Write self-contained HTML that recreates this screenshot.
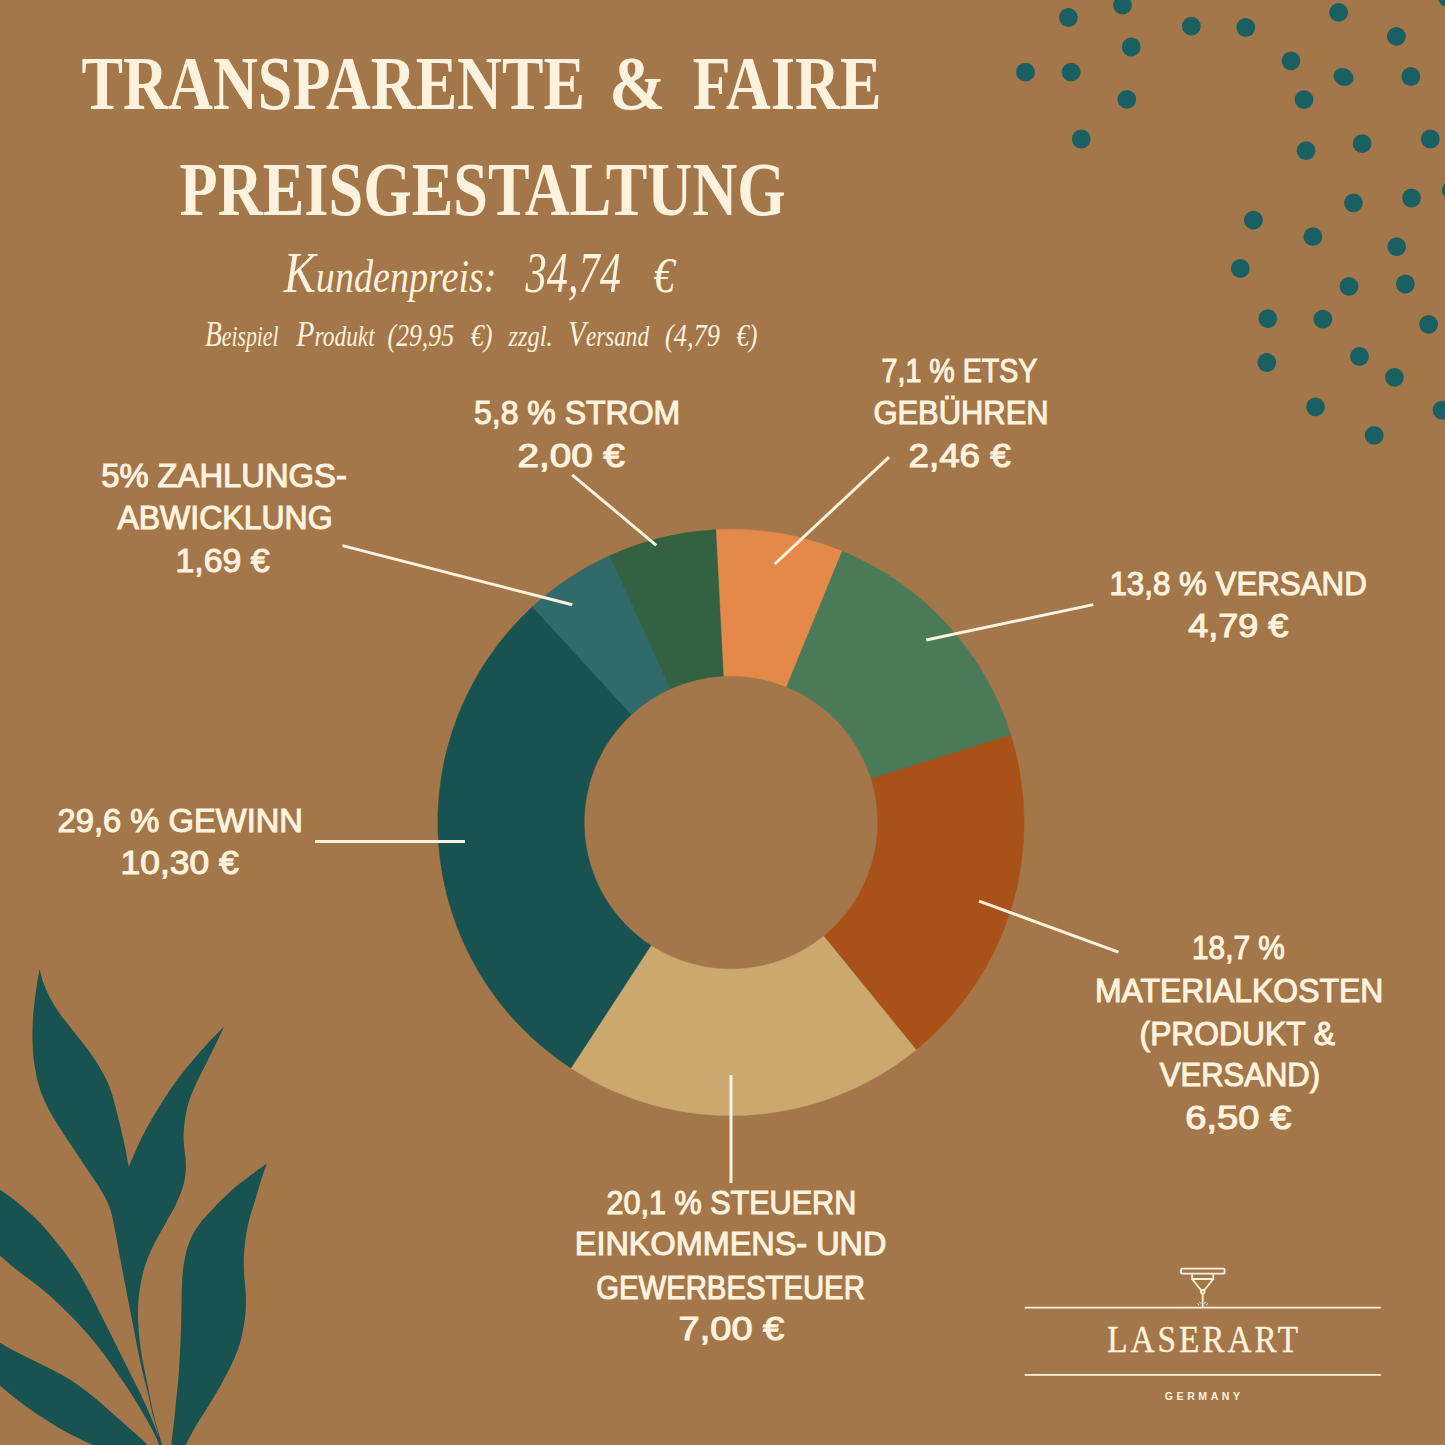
<!DOCTYPE html>
<html lang="de">
<head>
<meta charset="utf-8">
<title>Transparente &amp; faire Preisgestaltung</title>
<style>
html,body{margin:0;padding:0;background:#a4774a;}
body{width:1445px;height:1445px;overflow:hidden;}
svg{display:block;}
text{white-space:pre;}
.lab{font-family:"Liberation Sans",sans-serif;font-size:32.8px;fill:#fdf2de;stroke:#fdf2de;stroke-width:1.1px;}
.ttl{font-family:"Liberation Serif",serif;font-weight:bold;font-size:76px;fill:#fdf2de;}
.scr{font-family:"Liberation Serif",serif;font-style:italic;fill:#fdf2de;font-size:28px;}
.s1{font-size:46px;}
.c1{font-size:58px;}
.d1{font-size:56px;}
.e1{font-size:50px;}
.s2{font-size:28.5px;}
.c2{font-size:36px;}
.d2{font-size:32px;}
.lg1{font-family:"Liberation Serif",serif;font-size:37px;fill:#fdf2de;stroke:#fdf2de;stroke-width:.35px;}
.lg2{font-family:"Liberation Sans",sans-serif;font-size:10.5px;font-weight:bold;fill:#fdf2de;}
.ln line{stroke:#fdf2de;stroke-width:3;}
</style>
</head>
<body>
<svg width="1445" height="1445" viewBox="0 0 1445 1445">
<rect width="1445" height="1445" fill="#a4774a"/>
<g fill="#1a6063"><circle cx="1068.4" cy="17.5" r="9.4"/><circle cx="1122.5" cy="5.0" r="9.4"/><circle cx="1191.3" cy="26.2" r="9.4"/><circle cx="1245.7" cy="27.5" r="9.4"/><circle cx="1338.6" cy="12.4" r="9.4"/><circle cx="1396.4" cy="36.3" r="9.4"/><circle cx="1131.2" cy="47.0" r="9.4"/><circle cx="1291.0" cy="60.8" r="9.4"/><circle cx="1025.5" cy="72.2" r="9.4"/><circle cx="1071.1" cy="72.2" r="9.4"/><circle cx="1410.8" cy="76.5" r="9.4"/><circle cx="1126.8" cy="99.4" r="9.4"/><circle cx="1304.0" cy="99.7" r="9.4"/><circle cx="1081.2" cy="139.0" r="9.4"/><circle cx="1306.0" cy="150.7" r="9.4"/><circle cx="1362.1" cy="143.7" r="9.4"/><circle cx="1430.3" cy="139.0" r="9.4"/><circle cx="1353.4" cy="202.8" r="9.4"/><circle cx="1411.5" cy="198.0" r="9.4"/><circle cx="1451.4" cy="190.3" r="9.4"/><circle cx="1253.4" cy="220.2" r="9.4"/><circle cx="1312.8" cy="236.7" r="9.4"/><circle cx="1396.7" cy="246.7" r="9.4"/><circle cx="1240.3" cy="268.5" r="9.4"/><circle cx="1349.0" cy="286.3" r="9.4"/><circle cx="1405.4" cy="284.0" r="9.4"/><circle cx="1267.8" cy="318.6" r="9.4"/><circle cx="1322.9" cy="319.2" r="9.4"/><circle cx="1428.6" cy="324.3" r="9.4"/><circle cx="1266.8" cy="362.5" r="9.4"/><circle cx="1359.5" cy="356.5" r="9.4"/><circle cx="1394.4" cy="377.3" r="9.4"/><circle cx="1315.5" cy="406.8" r="9.4"/><circle cx="1374.2" cy="435.4" r="9.4"/><circle cx="1442.0" cy="410.2" r="9.4"/><circle cx="1447.5" cy="-2.5" r="9.4"/><ellipse cx="1343.5" cy="77" rx="10.3" ry="8.7" transform="rotate(28 1343.5 77)"/></g>
<g fill="#185352"><path d="M39.7 969.1C40.3 971.3 41.4 977.2 43.1 982.1C44.9 987.0 47.4 992.9 50.2 998.2C53.1 1003.6 56.2 1008.5 60.2 1014.2C64.2 1019.9 69.6 1026.3 74.3 1032.3C79.0 1038.3 84.0 1044.3 88.3 1050.3C92.6 1056.3 96.8 1062.4 100.3 1068.4C103.8 1074.4 106.9 1080.2 109.4 1086.5C111.9 1092.8 113.6 1099.8 115.4 1106.5C117.2 1113.2 118.7 1119.6 120.4 1126.6C122.1 1133.6 124.0 1142.0 125.4 1148.7C126.8 1155.4 128.2 1163.8 128.8 1166.8L128.8 1166.8C130.1 1163.8 133.6 1155.1 136.5 1148.7C139.4 1142.3 142.5 1136.0 146.5 1128.6C150.5 1121.2 155.6 1112.5 160.6 1104.5C165.6 1096.5 171.2 1087.8 176.6 1080.5C181.9 1073.2 187.3 1066.8 192.7 1060.4C198.0 1054.0 203.4 1048.0 208.7 1042.3C214.0 1036.6 221.8 1029.0 224.4 1026.3L224.4 1026.3C223.1 1029.0 219.6 1036.3 216.7 1042.3C213.8 1048.3 210.0 1055.7 206.7 1062.4C203.4 1069.1 199.7 1075.8 196.7 1082.5C193.7 1089.2 190.6 1095.8 188.6 1102.5C186.6 1109.2 185.4 1116.2 184.6 1122.6C183.8 1129.0 183.4 1134.7 183.6 1140.7C183.8 1146.7 185.3 1153.4 185.6 1158.7C185.9 1164.0 186.1 1167.9 185.6 1172.8C185.1 1177.7 184.3 1182.6 182.6 1188.0C180.9 1193.4 178.4 1199.1 175.6 1205.0C172.8 1210.9 169.1 1216.8 165.6 1223.2C162.1 1229.6 157.7 1236.9 154.5 1243.3C151.3 1249.7 148.7 1255.4 146.5 1261.4C144.3 1267.4 142.8 1273.1 141.5 1279.4C140.2 1285.8 139.1 1292.8 138.5 1299.5C137.9 1306.2 137.9 1312.9 138.1 1319.6C138.3 1326.3 138.8 1332.9 139.5 1339.6C140.2 1346.3 141.3 1353.0 142.5 1359.7C143.7 1366.4 145.2 1373.1 146.5 1379.8C147.8 1386.5 149.2 1393.4 150.5 1399.8C151.8 1406.2 153.0 1411.9 154.5 1417.9C156.0 1423.9 158.2 1431.3 159.5 1436.0C160.8 1440.7 161.8 1444.3 162.2 1446.0L160.6 1446.0C160.1 1443.7 158.8 1437.3 157.5 1432.0C156.2 1426.7 154.0 1419.9 152.5 1413.9C151.0 1407.9 150.0 1402.2 148.5 1395.8C147.0 1389.4 145.2 1382.8 143.5 1375.8C141.8 1368.8 140.2 1361.7 138.5 1353.7C136.8 1345.7 135.2 1336.3 133.5 1327.6C131.8 1318.9 130.1 1310.2 128.4 1301.5C126.7 1292.8 125.1 1284.1 123.4 1275.4C121.7 1266.7 119.9 1257.3 118.4 1249.3C116.9 1241.3 115.9 1234.2 114.4 1227.2C112.9 1220.2 111.8 1213.4 109.4 1207.0C107.1 1200.6 103.8 1195.0 100.3 1189.0C96.8 1183.0 92.6 1177.5 88.3 1171.0C84.0 1164.5 79.0 1157.1 74.3 1150.0C69.6 1142.9 64.5 1135.5 60.2 1128.6C55.9 1121.7 51.7 1115.5 48.2 1108.5C44.7 1101.5 41.5 1094.2 39.1 1086.5C36.8 1078.8 35.2 1070.1 34.1 1062.4C33.0 1054.7 32.7 1048.0 32.5 1040.3C32.3 1032.6 32.5 1024.6 33.1 1016.2C33.7 1007.8 35.0 998.0 36.1 990.1C37.2 982.2 39.1 972.6 39.7 969.1Z"/><path d="M266.9 1163.5C265.9 1166.4 262.9 1174.8 260.9 1181.0C258.9 1187.2 256.9 1194.3 254.9 1201.0C252.9 1207.7 250.5 1214.4 248.9 1221.1C247.3 1227.8 246.0 1234.6 245.2 1241.3C244.3 1248.0 243.9 1255.4 243.8 1261.4C243.7 1267.4 244.1 1272.1 244.4 1277.4C244.7 1282.8 245.6 1288.2 245.8 1293.5C246.0 1298.8 246.1 1304.2 245.8 1309.5C245.5 1314.8 244.8 1319.9 243.8 1325.6C242.8 1331.3 241.6 1337.7 239.8 1343.7C238.0 1349.7 235.3 1356.0 232.8 1361.7C230.3 1367.4 227.8 1372.1 224.8 1377.8C221.8 1383.5 218.0 1390.1 214.7 1395.8C211.3 1401.5 208.0 1406.6 204.7 1411.9C201.4 1417.2 197.9 1422.2 194.7 1427.9C191.4 1433.6 186.8 1443.0 185.2 1446.0L171.4 1446.0C171.5 1444.3 171.7 1440.3 172.2 1436.0C172.7 1431.7 173.5 1425.9 174.2 1419.9C174.9 1413.9 175.5 1406.5 176.2 1399.8C176.9 1393.1 177.6 1386.5 178.2 1379.8C178.8 1373.1 179.2 1366.4 179.6 1359.7C180.0 1353.0 180.3 1346.3 180.6 1339.6C180.9 1332.9 181.0 1326.3 181.2 1319.6C181.4 1312.9 181.4 1306.2 181.6 1299.5C181.8 1292.8 181.7 1286.1 182.2 1279.4C182.7 1272.7 183.3 1265.8 184.6 1259.4C185.8 1253.1 187.3 1247.0 189.7 1241.3C192.0 1235.6 194.9 1230.5 198.7 1225.1C202.5 1219.7 207.3 1214.7 212.7 1209.0C218.0 1203.3 224.4 1196.7 230.8 1191.0C237.2 1185.3 244.9 1179.6 250.9 1175.0C256.9 1170.4 264.2 1165.4 266.9 1163.5Z"/><path d="M-2.0 1188.3C0.3 1189.9 7.3 1194.4 12.0 1198.0C16.7 1201.6 21.4 1205.6 26.1 1209.8C30.8 1214.0 35.4 1218.1 40.1 1223.0C44.8 1227.9 49.5 1233.6 54.2 1239.3C58.9 1245.0 63.9 1251.4 68.2 1257.4C72.5 1263.4 76.6 1269.4 80.3 1275.4C84.0 1281.4 87.0 1287.2 90.3 1293.5C93.6 1299.8 96.9 1306.8 100.3 1313.5C103.7 1320.2 107.1 1326.9 110.4 1333.6C113.8 1340.3 117.1 1347.0 120.4 1353.7C123.7 1360.4 127.1 1367.1 130.4 1373.8C133.8 1380.5 137.2 1386.8 140.5 1393.8C143.8 1400.8 147.5 1408.9 150.5 1415.9C153.5 1422.9 156.6 1431.0 158.5 1436.0C160.4 1441.0 161.4 1444.3 162.0 1446.0L159.5 1446.0C158.7 1444.0 157.0 1439.0 154.5 1434.0C152.0 1429.0 148.2 1422.3 144.5 1415.9C140.8 1409.5 136.5 1402.2 132.5 1395.8C128.5 1389.4 124.8 1384.1 120.4 1377.8C116.1 1371.5 111.1 1364.1 106.4 1357.7C101.7 1351.3 97.3 1345.6 92.3 1339.6C87.3 1333.6 82.0 1327.6 76.3 1321.6C70.6 1315.6 64.2 1309.2 58.2 1303.5C52.2 1297.8 45.8 1292.2 40.1 1287.5C34.4 1282.8 29.1 1279.2 24.1 1275.4C19.1 1271.6 14.4 1268.0 10.0 1264.4C5.6 1260.8 0.0 1255.4 -2.0 1253.6Z"/><path d="M-2.0 1341.5C0.7 1343.0 8.3 1347.7 14.0 1350.7C19.7 1353.7 25.7 1356.5 32.1 1359.7C38.5 1362.9 45.9 1366.4 52.2 1369.7C58.6 1373.0 64.2 1376.0 70.2 1379.8C76.2 1383.6 82.3 1388.1 88.3 1392.8C94.3 1397.5 100.4 1402.7 106.4 1407.9C112.4 1413.1 118.7 1418.9 124.4 1423.9C130.1 1428.9 136.5 1434.3 140.5 1438.0C144.5 1441.7 147.2 1444.7 148.5 1446.0L95.0 1446.0C93.5 1445.3 91.1 1444.3 86.3 1442.0C81.5 1439.7 72.9 1435.7 66.2 1432.0C59.5 1428.3 52.6 1423.9 46.2 1419.9C39.9 1415.9 33.8 1411.9 28.1 1407.9C22.4 1403.9 17.0 1399.8 12.0 1395.8C7.0 1391.8 0.3 1386.0 -2.0 1384.0Z"/></g>
<path d="M715.7 529.8A293.1 293.1 0 0 1 842.2 551.3L786.7 686.7A146.8 146.8 0 0 0 723.3 675.9Z" fill="#e5894b" stroke="#e5894b" stroke-width=".6" stroke-linejoin="round"/>
<path d="M842.2 551.3A293.1 293.1 0 0 1 1010.8 735.3L871.2 778.8A146.8 146.8 0 0 0 786.7 686.7Z" fill="#4b7a58" stroke="#4b7a58" stroke-width=".6" stroke-linejoin="round"/>
<path d="M1010.8 735.3A293.1 293.1 0 0 1 916.0 1049.8L823.7 936.3A146.8 146.8 0 0 0 871.2 778.8Z" fill="#a85219" stroke="#a85219" stroke-width=".6" stroke-linejoin="round"/>
<path d="M916.0 1049.8A293.1 293.1 0 0 1 570.9 1068.0L650.8 945.5A146.8 146.8 0 0 0 823.7 936.3Z" fill="#cba86d" stroke="#cba86d" stroke-width=".6" stroke-linejoin="round"/>
<path d="M570.9 1068.0A293.1 293.1 0 0 1 532.6 606.7L631.6 714.4A146.8 146.8 0 0 0 650.8 945.5Z" fill="#185352" stroke="#185352" stroke-width=".6" stroke-linejoin="round"/>
<path d="M532.6 606.7A293.1 293.1 0 0 1 609.9 555.6L670.4 688.8A146.8 146.8 0 0 0 631.6 714.4Z" fill="#306a6a" stroke="#306a6a" stroke-width=".6" stroke-linejoin="round"/>
<path d="M609.9 555.6A293.1 293.1 0 0 1 715.7 529.8L723.3 675.9A146.8 146.8 0 0 0 670.4 688.8Z" fill="#326242" stroke="#326242" stroke-width=".6" stroke-linejoin="round"/>
<g class="ln"><line x1="342.5" y1="545.6" x2="572.3" y2="604.8"/><line x1="572.1" y1="474.8" x2="656.3" y2="545.3"/><line x1="889" y1="457.1" x2="774.8" y2="564"/><line x1="1093.3" y1="604.6" x2="926.2" y2="640"/><line x1="979.1" y1="901.1" x2="1118.4" y2="952.2"/><line x1="731" y1="1075" x2="731" y2="1183"/><line x1="315" y1="841.5" x2="465" y2="841.5"/></g>
<text class="ttl"><tspan x="81.6" y="109.4" textLength="503.4" lengthAdjust="spacingAndGlyphs">TRANSPARENTE</tspan> <tspan x="609.2" y="109.4" textLength="56.2" lengthAdjust="spacingAndGlyphs">&amp;</tspan> <tspan x="692.4" y="109.4" textLength="189.2" lengthAdjust="spacingAndGlyphs">FAIRE</tspan></text>
<text class="ttl"><tspan x="179.6" y="214.5" textLength="606.2" lengthAdjust="spacingAndGlyphs">PREISGESTALTUNG</tspan></text>
<text class="scr"><tspan class="s1" x="283.8" y="291.5" textLength="212.7" lengthAdjust="spacingAndGlyphs"><tspan class="c1">K</tspan>undenpreis:</tspan> <tspan class="d1" x="525.5" y="291.5" textLength="95.5" lengthAdjust="spacingAndGlyphs">34,74</tspan> <tspan class="e1" x="653.4" y="291.5" textLength="21.1" lengthAdjust="spacingAndGlyphs">€</tspan></text>
<text class="scr"><tspan class="s2" x="204.9" y="346.3" textLength="73.7" lengthAdjust="spacingAndGlyphs"><tspan class="c2">B</tspan>eispiel</tspan> <tspan class="s2" x="296.3" y="346.3" textLength="78.5" lengthAdjust="spacingAndGlyphs"><tspan class="c2">P</tspan>rodukt</tspan> <tspan class="d2" x="387.6" y="346.3" textLength="66.4" lengthAdjust="spacingAndGlyphs">(29,95</tspan> <tspan class="d2" x="470.7" y="346.3" textLength="21.8" lengthAdjust="spacingAndGlyphs">€)</tspan> <tspan class="s2" x="508.5" y="346.3" textLength="44.1" lengthAdjust="spacingAndGlyphs">zzgl.</tspan> <tspan class="s2" x="568.0" y="346.3" textLength="81.0" lengthAdjust="spacingAndGlyphs"><tspan class="c2">V</tspan>ersand</tspan> <tspan class="d2" x="665.0" y="346.3" textLength="54.9" lengthAdjust="spacingAndGlyphs">(4,79</tspan> <tspan class="d2" x="736.5" y="346.3" textLength="20.9" lengthAdjust="spacingAndGlyphs">€)</tspan></text>
<text class="lab"><tspan x="474.0" y="423.7" textLength="206.2" lengthAdjust="spacingAndGlyphs">5,8 % STROM</tspan> <tspan x="517.6" y="466.7" textLength="107.2" lengthAdjust="spacingAndGlyphs">2,00 €</tspan></text>
<text class="lab"><tspan x="101.2" y="486.9" textLength="245.6" lengthAdjust="spacingAndGlyphs">5% ZAHLUNGS-</tspan> <tspan x="117.4" y="528.6" textLength="215.2" lengthAdjust="spacingAndGlyphs">ABWICKLUNG</tspan> <tspan x="175.4" y="571.7" textLength="94.2" lengthAdjust="spacingAndGlyphs">1,69 €</tspan></text>
<text class="lab"><tspan x="881.6" y="381.7" textLength="155.2" lengthAdjust="spacingAndGlyphs">7,1 % ETSY</tspan> <tspan x="873.4" y="424.4" textLength="175.2" lengthAdjust="spacingAndGlyphs">GEBÜHREN</tspan> <tspan x="908.6" y="467.0" textLength="102.0" lengthAdjust="spacingAndGlyphs">2,46 €</tspan></text>
<text class="lab"><tspan x="1109.4" y="595.0" textLength="257.4" lengthAdjust="spacingAndGlyphs">13,8 % VERSAND</tspan> <tspan x="1188.2" y="637.2" textLength="100.0" lengthAdjust="spacingAndGlyphs">4,79 €</tspan></text>
<text class="lab"><tspan x="1192.0" y="959.2" textLength="92.8" lengthAdjust="spacingAndGlyphs">18,7 %</tspan> <tspan x="1095.0" y="1001.5" textLength="288.2" lengthAdjust="spacingAndGlyphs">MATERIALKOSTEN</tspan> <tspan x="1139.6" y="1044.5" textLength="195.4" lengthAdjust="spacingAndGlyphs">(PRODUKT &amp;</tspan> <tspan x="1159.8" y="1086.4" textLength="160.2" lengthAdjust="spacingAndGlyphs">VERSAND)</tspan> <tspan x="1185.2" y="1129.4" textLength="106.0" lengthAdjust="spacingAndGlyphs">6,50 €</tspan></text>
<text class="lab"><tspan x="606.6" y="1213.6" textLength="249.6" lengthAdjust="spacingAndGlyphs">20,1 % STEUERN</tspan> <tspan x="574.8" y="1255.2" textLength="311.6" lengthAdjust="spacingAndGlyphs">EINKOMMENS- UND</tspan> <tspan x="596.2" y="1298.6" textLength="268.6" lengthAdjust="spacingAndGlyphs">GEWERBESTEUER</tspan> <tspan x="678.6" y="1340.4" textLength="105.6" lengthAdjust="spacingAndGlyphs">7,00 €</tspan></text>
<text class="lab"><tspan x="57.6" y="831.7" textLength="245.4" lengthAdjust="spacingAndGlyphs">29,6 % GEWINN</tspan> <tspan x="120.6" y="874.3" textLength="118.0" lengthAdjust="spacingAndGlyphs">10,30 €</tspan></text>

<g stroke="#fdf2de" stroke-width="1.8" fill="none">
<line x1="1024.7" y1="1307.6" x2="1380.8" y2="1307.6"/>
<line x1="1024.7" y1="1374.9" x2="1380.8" y2="1374.9"/>
<rect x="1181" y="1268.6" width="43.6" height="5" rx="1"/>
<path d="M1192.1 1274.2V1279H1213.3V1274.2M1192.1 1279L1200.9 1290M1213.3 1279L1204.5 1290"/>
<circle cx="1202.7" cy="1291.8" r="1.8"/>
<line x1="1202.7" y1="1294" x2="1202.7" y2="1307"/>
<path d="M1197.5 1303.5l1.8 1.6M1199.6 1301.8l1.2 1.8M1207.9 1303.5l-1.8 1.6M1205.8 1301.8l-1.2 1.8" stroke-width="1"/>
</g>
<text class="lg1" transform="translate(1107.2 1351.9) scale(.9 1)" textLength="212.0" lengthAdjust="spacing">LASERART</text>
<text class="lg2" x="1164.8" y="1399.9" textLength="75.2" lengthAdjust="spacing">GERMANY</text>
</svg>
</body>
</html>
